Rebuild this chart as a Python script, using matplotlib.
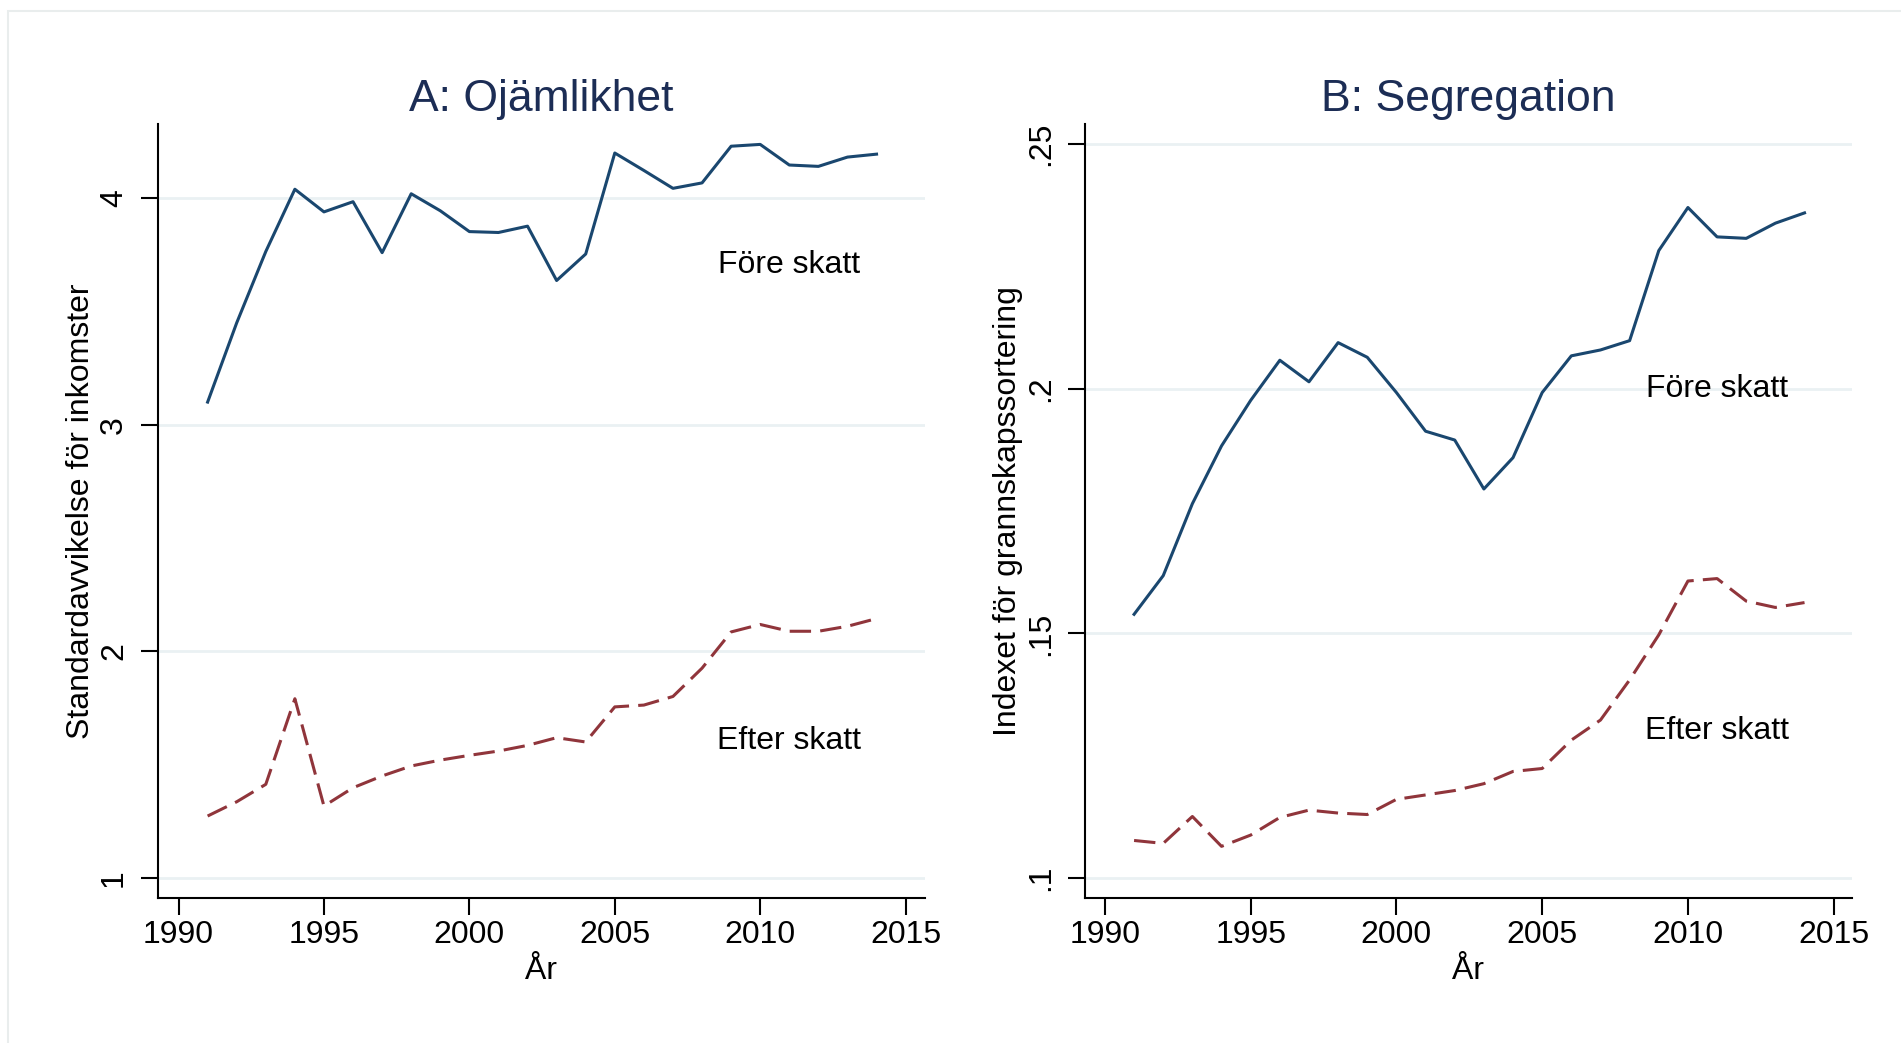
import matplotlib.pyplot as plt
from matplotlib.patches import Rectangle

plt.rcParams["font.family"] = ["Liberation Sans", "DejaVu Sans"]

# === data ===
years = list(range(1991, 2015))

# Panel A: standard deviation of incomes
ojamlikhet_fore = [3.10, 3.45, 3.765, 4.04, 3.94, 3.985, 3.76, 4.02, 3.945, 3.853,
                   3.849, 3.877, 3.637, 3.754, 4.20, 4.123, 4.044, 4.068, 4.23, 4.238,
                   4.147, 4.141, 4.182, 4.195]
ojamlikhet_efter = [1.272, 1.335, 1.412, 1.79, 1.316, 1.397, 1.449, 1.493, 1.519, 1.54,
                    1.559, 1.584, 1.618, 1.599, 1.754, 1.762, 1.80, 1.925, 2.085, 2.118,
                    2.088, 2.088, 2.11, 2.144]

# Panel B: neighbourhood sorting index
segregation_fore = [0.1539, 0.1618, 0.1765, 0.1883, 0.1976, 0.2058, 0.2014, 0.2094, 0.2064,
                    0.1992, 0.1913, 0.1895, 0.1795, 0.1859, 0.1992, 0.2067, 0.2079, 0.2098,
                    0.2282, 0.2370, 0.2310, 0.2307, 0.2338, 0.2359]
segregation_efter = [0.1077, 0.1071, 0.1126, 0.1065, 0.1088, 0.1124, 0.1139, 0.1133, 0.1130,
                     0.1161, 0.1170, 0.1179, 0.1193, 0.1218, 0.1224, 0.1282, 0.1323, 0.1405,
                     0.1497, 0.1607, 0.1612, 0.1566, 0.1553, 0.1563]

x_ticks = [1990, 1995, 2000, 2005, 2010, 2015]
a_ticks = [1, 2, 3, 4]
a_ticklabels = ["1", "2", "3", "4"]
b_ticks = [0.10, 0.15, 0.20, 0.25]
b_ticklabels = [".1", ".15", ".2", ".25"]

navy = "#1a476f"
maroon = "#90353b"
title_color = "#1c2d55"
grid_color = "#eaf1f3"
fs = 23

fig = plt.figure(figsize=(19.01, 10.43), dpi=100)

# faint outer frame (only top and left edge fall inside the image)
fig.patches.append(Rectangle((8 / 1901, -0.1), 1.2, 1.1 - 11 / 1043,
                             transform=fig.transFigure, fill=False,
                             edgecolor="#e9eded", linewidth=1.5))

ax_a = fig.add_axes([0.0829, 0.1388, 0.4039, 0.7425])
ax_b = fig.add_axes([0.5705, 0.1388, 0.4039, 0.7425])


def style(ax, title, ylabel, yticks, yticklabels, ylim):
    ax.set_xlim(1989.28, 2015.68)
    ax.set_ylim(*ylim)
    ax.set_xticks(x_ticks)
    ax.set_yticks(yticks)
    ax.set_yticklabels(yticklabels, rotation=90, va="center")
    ax.tick_params(axis="both", labelsize=fs, length=12.5, width=1.5, color="black")
    ax.tick_params(axis="x", pad=3)
    ax.tick_params(axis="y", pad=8)
    for s in ["top", "right"]:
        ax.spines[s].set_visible(False)
    for s in ["left", "bottom"]:
        ax.spines[s].set_linewidth(1.5)
    ax.grid(True, axis="y", color=grid_color, linewidth=2)
    ax.set_axisbelow(True)
    ax.set_title(title, fontsize=32, color=title_color, y=1.032, va="center", pad=0)
    ax.set_xlabel("År", fontsize=fs, va="center")
    ax.xaxis.set_label_coords(0.5, -0.094)
    ax.set_ylabel(ylabel, fontsize=fs, va="center")
    ax.yaxis.set_label_coords(-0.0993, 0.5)


ax_a.plot(years, ojamlikhet_fore, color=navy, linewidth=2.2)
ax_a.plot(years, ojamlikhet_efter, color=maroon, linewidth=2.2, dashes=(7, 3))
ax_a.text(2011.0, 3.704, "Före skatt", fontsize=fs, ha="center", va="center")
ax_a.text(2011.0, 1.604, "Efter skatt", fontsize=fs, ha="center", va="center")
style(ax_a, "A: Ojämlikhet", "Standardavvikelse för inkomster",
      a_ticks, a_ticklabels, (0.909, 4.329))

ax_b.plot(years, segregation_fore, color=navy, linewidth=2.2)
ax_b.plot(years, segregation_efter, color=maroon, linewidth=2.2, dashes=(7, 3))
ax_b.text(2011.0, 0.2000, "Före skatt", fontsize=fs, ha="center", va="center")
ax_b.text(2011.0, 0.1300, "Efter skatt", fontsize=fs, ha="center", va="center")
style(ax_b, "B: Segregation", "Indexet för grannskapssortering",
      b_ticks, b_ticklabels, (0.0959, 0.2541))
ax_b.set_xlim(1989.3, 2015.64)

fig.savefig("out.png", dpi=100)
